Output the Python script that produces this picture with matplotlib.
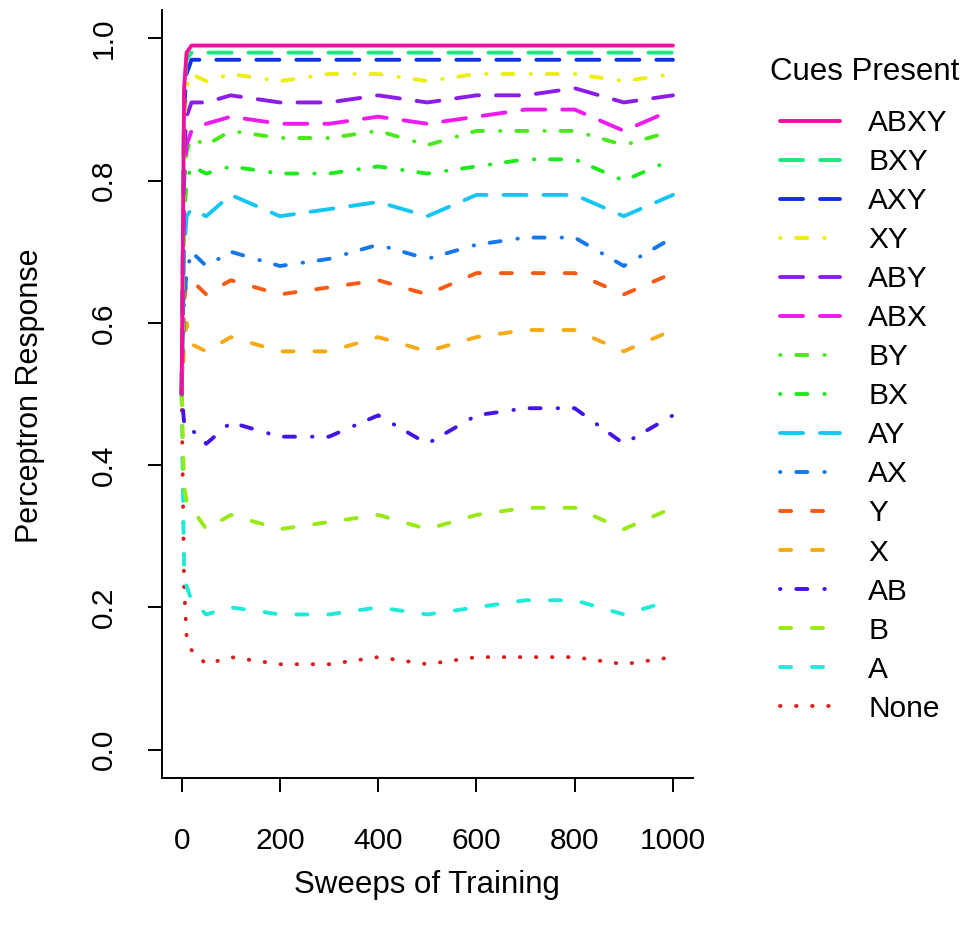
import matplotlib
matplotlib.use("Agg")
import matplotlib.pyplot as plt

plt.rcParams['font.family'] = ['Liberation Sans', 'DejaVu Sans']
plt.rcParams['lines.scale_dashes'] = False

# sweeps at which the response was recorded
sweeps = [0, 5, 10, 20, 50, 100, 200, 300, 400, 500, 600, 700, 800, 900, 1000]

# perceptron response for each cue combination
abxy = [0.5, 0.93, 0.98, 0.99, 0.99, 0.99, 0.99, 0.99, 0.99, 0.99, 0.99, 0.99, 0.99, 0.99, 0.99]
bxy = [0.5, 0.92, 0.97, 0.98, 0.98, 0.98, 0.98, 0.98, 0.98, 0.98, 0.98, 0.98, 0.98, 0.98, 0.98]
axy = [0.5, 0.90, 0.95, 0.97, 0.97, 0.97, 0.97, 0.97, 0.97, 0.97, 0.97, 0.97, 0.97, 0.97, 0.97]
xy = [0.5, 0.88, 0.93, 0.95, 0.94, 0.95, 0.94, 0.95, 0.95, 0.94, 0.95, 0.95, 0.95, 0.94, 0.95]
aby = [0.5, 0.84, 0.89, 0.91, 0.91, 0.92, 0.91, 0.91, 0.92, 0.91, 0.92, 0.92, 0.93, 0.91, 0.92]
abx = [0.5, 0.80, 0.85, 0.87, 0.88, 0.89, 0.88, 0.88, 0.89, 0.88, 0.89, 0.90, 0.90, 0.87, 0.90]
by = [0.5, 0.79, 0.84, 0.86, 0.85, 0.87, 0.86, 0.86, 0.87, 0.85, 0.87, 0.87, 0.87, 0.85, 0.87]
bx = [0.5, 0.75, 0.80, 0.82, 0.81, 0.82, 0.81, 0.81, 0.82, 0.81, 0.82, 0.83, 0.83, 0.80, 0.83]
ay = [0.5, 0.70, 0.75, 0.76, 0.75, 0.78, 0.75, 0.76, 0.77, 0.75, 0.78, 0.78, 0.78, 0.75, 0.78]
ax_ = [0.5, 0.63, 0.67, 0.70, 0.68, 0.70, 0.68, 0.69, 0.71, 0.69, 0.71, 0.72, 0.72, 0.68, 0.72]
y_ = [0.5, 0.63, 0.66, 0.66, 0.64, 0.66, 0.64, 0.65, 0.66, 0.64, 0.67, 0.67, 0.67, 0.64, 0.67]
x_ = [0.5, 0.57, 0.60, 0.57, 0.56, 0.58, 0.56, 0.56, 0.58, 0.56, 0.58, 0.59, 0.59, 0.56, 0.59]
ab = [0.5, 0.46, 0.45, 0.45, 0.43, 0.46, 0.44, 0.44, 0.47, 0.43, 0.47, 0.48, 0.48, 0.43, 0.47]
b_ = [0.5, 0.37, 0.35, 0.34, 0.31, 0.33, 0.31, 0.32, 0.33, 0.31, 0.33, 0.34, 0.34, 0.31, 0.34]
a_ = [0.5, 0.25, 0.23, 0.21, 0.19, 0.20, 0.19, 0.19, 0.20, 0.19, 0.20, 0.21, 0.21, 0.19, 0.21]
none = [0.5, 0.23, 0.16, 0.14, 0.12, 0.13, 0.12, 0.12, 0.13, 0.12, 0.13, 0.13, 0.13, 0.12, 0.13]

labels = ['ABXY', 'BXY', 'AXY', 'XY', 'ABY', 'ABX', 'BY', 'BX',
          'AY', 'AX', 'Y', 'X', 'AB', 'B', 'A', 'None']
series = [abxy, bxy, axy, xy, aby, abx, by, bx, ay, ax_, y_, x_, ab, b_, a_, none]
colors = ['#F20FA0', '#1EE87D', '#1030E0', '#EEEE11', '#8C1CE8', '#EE1AEE',
          '#4AEA1A', '#1EEA1E', '#16C6F2', '#1577EA', '#F75A15', '#F7AA18',
          '#4414E4', '#96EA12', '#1EEAD8', '#DD1C1C']

# R style line types, dash lengths in points
solid = '-'
longdash = (0, (16.6, 12.2))
dashed = (0, (8.0, 15.0))
dotdash = (0, (0.36, 11.34, 8.0, 12.2))
dotted = (0, (0.36, 11.2))
styles = [solid, longdash, longdash, dotdash, longdash, longdash, dotdash, dotdash,
          longdash, dotdash, dashed, dashed, dotdash, dashed, dashed, dotted]

fig = plt.figure(figsize=(9.74, 9.30), dpi=100)
ax = fig.add_axes([162 / 974, 1 - 778 / 930, (692.6 - 162) / 974, (778 - 10) / 930])

handles = [None] * len(labels)
# draw from the bottom of the legend upwards so ABXY ends on top
for i in reversed(range(len(labels))):
    line, = ax.plot(sweeps, series[i], color=colors[i], linestyle=styles[i], lw=2.8,
                    solid_capstyle='round', dash_capstyle='round',
                    solid_joinstyle='round', dash_joinstyle='round')
    handles[i] = line

ax.set_xlim(-40, 1040)
ax.set_ylim(-0.04, 1.04)
ax.spines['top'].set_visible(False)
ax.spines['right'].set_visible(False)
for s in ['left', 'bottom']:
    ax.spines[s].set_linewidth(1.4)

ax.set_xticks([0, 200, 400, 600, 800, 1000])
ax.set_yticks([0.0, 0.2, 0.4, 0.6, 0.8, 1.0])
ax.set_yticklabels(['0.0', '0.2', '0.4', '0.6', '0.8', '1.0'], rotation=90, va='center')
ax.tick_params(direction='out', length=10, width=1.4, labelsize=21.5, colors='black')
ax.tick_params(axis='x', pad=25)
ax.tick_params(axis='y', pad=22)

fig.text(427 / 974, 1 - 885 / 930, 'Sweeps of Training', fontsize=22.5,
         ha='center', va='center')
fig.text(30 / 974, 1 - 396 / 930, 'Perceptron Response', fontsize=22,
         ha='center', va='center', rotation=90)

fig.text(865 / 974, 1 - 72 / 930, 'Cues Present', fontsize=22.5, ha='center', va='center')
ax.legend(handles, labels, loc='upper left', bbox_to_anchor=(780 / 974, 1 - 109 / 930),
          bbox_transform=fig.transFigure, frameon=False, fontsize=21.5,
          handlelength=2.0, handletextpad=0.95, labelspacing=0.37,
          borderpad=0, borderaxespad=0)

fig.savefig('out.png', dpi=100)
